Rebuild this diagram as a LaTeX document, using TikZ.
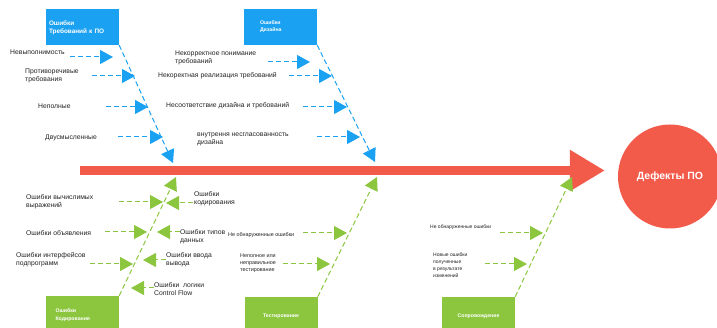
\documentclass[tikz,border=0pt]{standalone}
\usepackage{fontspec}
\setmainfont{Liberation Sans}
\usepackage{xcolor}
\usetikzlibrary{arrows.meta, positioning, calc}

\definecolor{boneblue}{HTML}{1BA1F2}
\definecolor{bonegreen}{HTML}{8CC63F}
\definecolor{spinered}{HTML}{F25A4A}
\definecolor{labelgray}{HTML}{222222}

\begin{document}
\begin{tikzpicture}[
        x=1pt, y=-1pt,
        every node/.style={align=left, inner sep=0pt},
        lbl/.style={anchor=west, font=\fontsize{6.8}{8}\selectfont, text=labelgray},
        lblsm/.style={anchor=west, font=\fontsize{5.4}{7.2}\selectfont, text=labelgray},
        bluebox/.style={
            rectangle, fill=boneblue, text=white,
            minimum width=73pt, minimum height=36pt,
            font=\bfseries\fontsize{6.4}{8.6}\selectfont
        },
        greenbox/.style={
            rectangle, fill=bonegreen, text=white,
            minimum width=73pt, minimum height=38pt,
            font=\bfseries\fontsize{5.2}{7.6}\selectfont
        },
        barr/.style={-{Triangle[length=13pt,width=14pt]}, line width=1pt, boneblue,
            dash pattern=on 5pt off 3pt},
        garr/.style={-{Triangle[length=13pt,width=14pt]}, line width=1pt, bonegreen,
            dash pattern=on 5pt off 3pt},
        spine/.style={-{Triangle[length=35pt,width=39pt]}, line width=9pt, spinered}
    ]
    \useasboundingbox (0,0) rectangle (717,328);

    % boxes and effect
    \node[bluebox, text width=67pt] (req) at (82.5,27) {\\[-2pt]Ошибки\\Требований к ПО};
    \node[bluebox, text width=41pt, font=\bfseries\fontsize{5.2}{7}\selectfont] (dsg) at (280.5,27) {\\[-4pt]Ошибки\\Дизайна};
    \node[greenbox, text width=54pt] (cod) at (82.5,315) {Ошибки\\Кодирования};
    \node[greenbox, align=center] (tst) at (281,316) {Тестирование};
    \node[greenbox, align=center] (mnt) at (478.5,316) {Сопровождение};
    \node[circle, fill=spinered, minimum size=104pt, align=center, text=white,
        font=\bfseries\fontsize{10.5}{12}\selectfont] (dfct) at (670,176.5) {Дефекты ПО};

    % spine
    \coordinate (sp0) at (80,170.5);
    \draw[spine, shorten >=13pt] (sp0) -- (sp0 -| dfct.west);

    % bones
    \coordinate (reqtip) at (173,163);
    \coordinate (dsgtip) at (375,162);
    \coordinate (codtip) at (176,177);
    \coordinate (tsttip) at (377,177);
    \coordinate (mnttip) at (572,177);
    \draw[barr] (req.south east) -- (reqtip);
    \draw[barr] (dsg.south east) -- (dsgtip);
    \draw[garr] (cod.north east) -- (codtip);
    \draw[garr] (tst.north east) -- (tsttip);
    \draw[garr] (mnt.north east) -- (mnttip);

    % requirements causes
    \node[lbl] (r1) at (10,52) {Невыполнимость};
    \node[lbl] (r2) at (25,76) {Противоречивые\\требования};
    \node[lbl] (r3) at (38,106) {Неполные};
    \node[lbl] (r4) at (45,138) {Двусмысленные};
    \coordinate (r1s) at (70,57);   \coordinate (r1t) at (113,57);
    \coordinate (r2s) at (92,76);   \coordinate (r2t) at (135,76);
    \coordinate (r3s) at (106,107); \coordinate (r3t) at (148,107);
    \coordinate (r4s) at (118,137); \coordinate (r4t) at (163,137);
    \draw[barr] (r1s) -- (r1t);
    \draw[barr] (r2s) -- (r2t);
    \draw[barr] (r3s) -- (r3t);
    \draw[barr] (r4s) -- (r4t);

    % design causes
    \node[lbl] (d1) at (175,58) {Некорректное понимание\\требований};
    \node[lbl] (d2) at (158,76) {Некоректная реализация требований};
    \node[lbl] (d3) at (166,106) {Несоответствие дизайна и требований};
    \node[lbl] (d4) at (197,139) {внутрення несгласованность\\дизайна};
    \coordinate (d1s) at (268,62);  \coordinate (d1t) at (310,62);
    \coordinate (d2s) at (289,76);  \coordinate (d2t) at (332,76);
    \coordinate (d3s) at (303,107); \coordinate (d3t) at (347,107);
    \coordinate (d4s) at (317,137); \coordinate (d4t) at (360,137);
    \draw[barr] (d1s) -- (d1t);
    \draw[barr] (d2s) -- (d2t);
    \draw[barr] (d3s) -- (d3t);
    \draw[barr] (d4s) -- (d4t);

    % coding causes, left
    \node[lbl] (c1) at (26,202) {Ошибки вычислимых\\выражений};
    \node[lbl] (c2) at (26,233) {Ошибки объявления};
    \node[lbl] (c3) at (16,260) {Ошибки интерфейсов\\подпрограмм};
    \coordinate (c1s) at (119,202); \coordinate (c1t) at (163,202);
    \coordinate (c2s) at (105,232); \coordinate (c2t) at (147,232);
    \coordinate (c3s) at (90,264);  \coordinate (c3t) at (133,264);
    \draw[garr] (c1s) -- (c1t);
    \draw[garr] (c2s) -- (c2t);
    \draw[garr] (c3s) -- (c3t);

    % coding causes, right
    \node[lbl] (c4) at (194,199) {Ошибки\\кодирования};
    \node[lbl] (c5) at (180,237) {Ошибки типов\\данных};
    \node[lbl] (c6) at (166,260) {Ошибки ввода\\вывода};
    \node[lbl] (c7) at (154,289) {Ошибки\ \ логики\\Control Flow};
    \coordinate (c4s) at (193,203); \coordinate (c4t) at (166,203);
    \coordinate (c5s) at (180,232); \coordinate (c5t) at (157,232);
    \coordinate (c6s) at (166,260); \coordinate (c6t) at (143,260);
    \coordinate (c7s) at (154,288); \coordinate (c7t) at (131,288);
    \draw[garr] (c4s) -- (c4t);
    \draw[garr] (c5s) -- (c5t);
    \draw[garr] (c6s) -- (c6t);
    \draw[garr] (c7s) -- (c7t);

    % testing causes
    \node[lblsm] (t1) at (228,235) {Не обнаруженные ошибки};
    \node[lblsm] (t2) at (240,263) {Неполное или\\неправильное\\тестирование};
    \coordinate (t1s) at (303,233); \coordinate (t1t) at (347,233);
    \coordinate (t2s) at (283,264); \coordinate (t2t) at (330,264);
    \draw[garr] (t1s) -- (t1t);
    \draw[garr] (t2s) -- (t2t);

    % maintenance causes
    \node[lblsm, font=\fontsize{5}{7}\selectfont] (m1) at (430,227) {Не обнаруженные ошибки};
    \node[lblsm, font=\fontsize{5}{7}\selectfont] (m2) at (433,265) {Новые ошибки\\полученные\\в результате\\изменений};
    \coordinate (m1s) at (500,233); \coordinate (m1t) at (543,233);
    \coordinate (m2s) at (485,264); \coordinate (m2t) at (527,264);
    \draw[garr] (m1s) -- (m1t);
    \draw[garr] (m2s) -- (m2t);

\end{tikzpicture}
\end{document}
